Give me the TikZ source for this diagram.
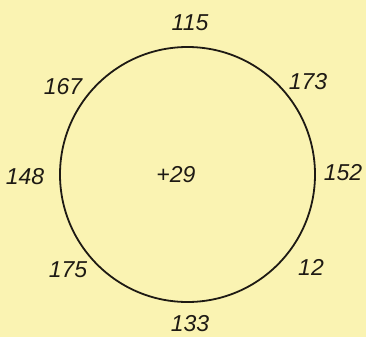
\documentclass[tikz,border=0pt]{standalone}
\usepackage{fontspec}
\setmainfont{Liberation Sans}
\definecolor{paper}{HTML}{FAF3B2}
\definecolor{ink}{HTML}{1E1A14}
\begin{document}
\begin{tikzpicture}[x=1pt,y=-1pt,
  lbl/.style={inner sep=0pt, text=ink, font=\fontsize{23}{25}\selectfont\itshape},
  ring/.style={draw=ink, line width=1.8pt}]
\fill[paper] (0,0) rectangle (366,337);
\useasboundingbox (0,0) rectangle (366,337);
\node[ring, circle, minimum size=255pt, inner sep=0pt] (c) at (187.5,174.5) {};
\node[lbl] (n115) at (190,23) {115};
\node[lbl] (n173) at (308,82) {173};
\node[lbl] (n152) at (343,173) {152};
\node[lbl] (n12) at (311,267) {12};
\node[lbl] (n133) at (190,324) {133};
\node[lbl] (n175) at (68,270) {175};
\node[lbl] (n148) at (25,177) {148};
\node[lbl] (n167) at (63,87) {167};
\node[lbl] (n29) at (176,175) {+29};
\end{tikzpicture}
\end{document}
